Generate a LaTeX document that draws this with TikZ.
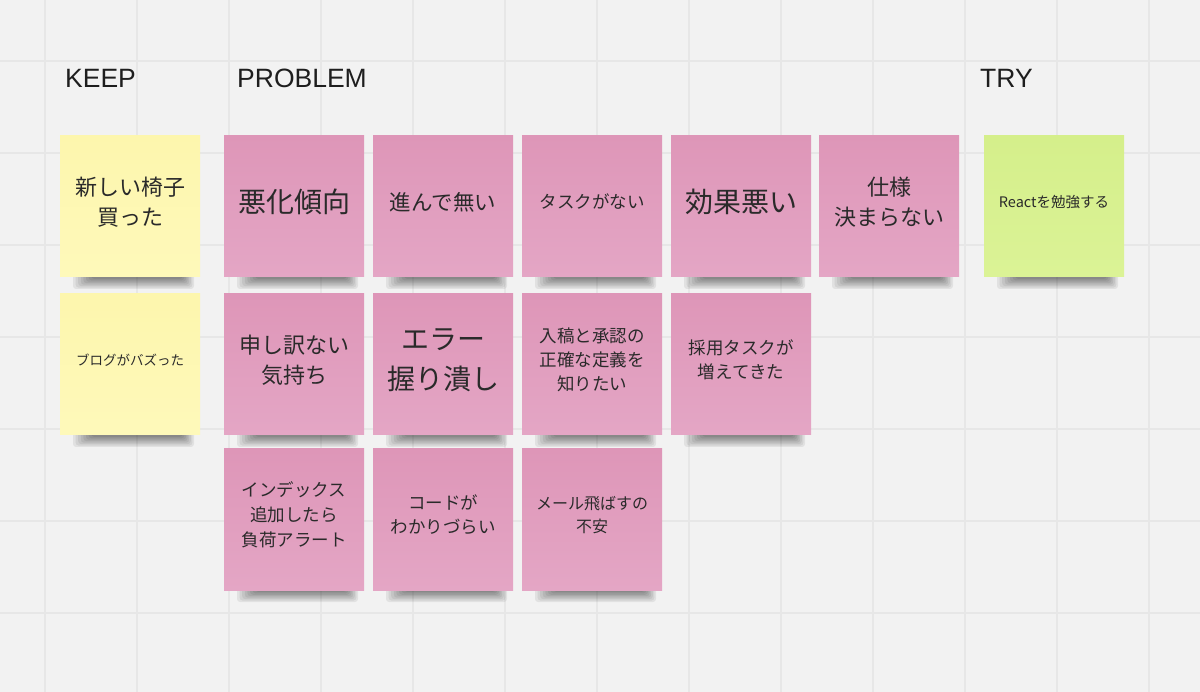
\documentclass[tikz,border=0pt]{standalone}
\usepackage{fontspec}
\setmainfont{Liberation Sans}
\newfontfamily\jp{Noto Sans CJK JP}
\definecolor{bg}{HTML}{F2F2F2}
\definecolor{gridc}{HTML}{E7E7E7}
\definecolor{yel}{HTML}{FDF6AD}
\definecolor{yelb}{HTML}{FEF9BA}
\definecolor{pnk}{HTML}{DE96B8}
\definecolor{pnkb}{HTML}{E4A6C5}
\definecolor{grn}{HTML}{D5EF8B}
\definecolor{grnb}{HTML}{DBF396}
\definecolor{txt}{HTML}{1E1E1E}
\definecolor{stxt}{HTML}{2A2A2A}
\tikzset{
  notebox/.style={rectangle, minimum width=140pt, minimum height=141pt, inner sep=0pt, draw=none},
  notetext/.style={align=center, inner sep=0pt, text=stxt},
  header/.style={anchor=base west, inner sep=0pt, text=txt, font=\fontsize{26.5}{30}\selectfont},
  gridline/.style={draw=gridc, line width=1.3pt},
}
\newcommand\StickyNote[8]{%
  \foreach \i in {0,...,7}{%
    \fill[black, opacity=0.065, rounded corners=3pt]
      (#2+13+\i*2.6, #3+137) rectangle (#2+134-\i*1.6, #3+141+12-\i*1.45);
  }
  \node[notebox, top color=#4, bottom color=#5] (#1) at (#2+70, #3+70.5) {};
  \node[notetext, font=\jp\fontsize{#6}{#7}\selectfont] (#1t) at (#2+70, #3+66) {#8};
}
\begin{document}
\begin{tikzpicture}[x=1pt, y=-1pt]
\useasboundingbox (0,0) rectangle (1200,692);
\fill[bg] (0,0) rectangle (1200,692);
\foreach \gx in {45,137,...,1149} \draw[gridline] (\gx,0) -- (\gx,692);
\foreach \gy in {61,153,...,613} \draw[gridline] (0,\gy) -- (1200,\gy);

\node[header] (hkeep) at (65,88) {KEEP};
\node[header] (hprob) at (237,88) {PROBLEM};
\node[header] (htry) at (980,88) {TRY};

% row 1
\StickyNote{k1}{60}{136}{yel}{yelb}{22}{30}{新しい椅子\\買った}
\StickyNote{p1}{224}{136}{pnk}{pnkb}{28}{39}{悪化傾向}
\StickyNote{p2}{373}{136}{pnk}{pnkb}{21.5}{30}{進んで無い}
\StickyNote{p3}{522}{136}{pnk}{pnkb}{17.5}{24}{タスクがない}
\StickyNote{p4}{671}{136}{pnk}{pnkb}{28}{39}{効果悪い}
\StickyNote{p5}{819}{136}{pnk}{pnkb}{22}{30}{仕様\\決まらない}
\StickyNote{t1}{984}{136}{grn}{grnb}{14.5}{20}{Reactを勉強する}
% row 2
\StickyNote{k2}{60}{294}{yel}{yelb}{13.5}{18}{ブログがバズった}
\StickyNote{p6}{224}{294}{pnk}{pnkb}{22}{30}{申し訳ない\\気持ち}
\StickyNote{p7}{373}{294}{pnk}{pnkb}{28}{40}{エラー\\握り潰し}
\StickyNote{p8}{522}{294}{pnk}{pnkb}{17.5}{24}{入稿と承認の\\正確な定義を\\知りたい}
\StickyNote{p9}{671}{294}{pnk}{pnkb}{17.5}{24}{採用タスクが\\増えてきた}
% row 3
\StickyNote{p10}{224}{449}{pnk}{pnkb}{17.5}{25}{インデックス\\追加したら\\負荷アラート}
\StickyNote{p11}{373}{449}{pnk}{pnkb}{17.5}{24}{コードが\\わかりづらい}
\StickyNote{p12}{522}{449}{pnk}{pnkb}{16}{23}{メール飛ばすの\\不安}
\end{tikzpicture}
\end{document}
